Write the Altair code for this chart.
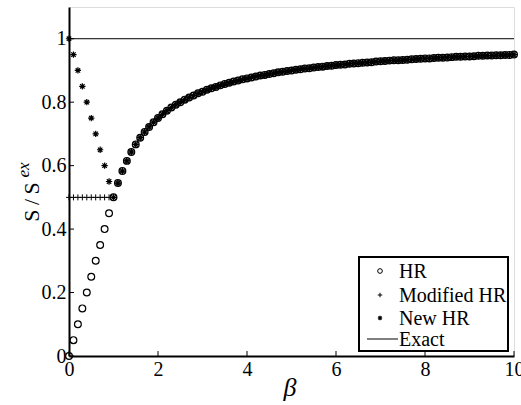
import altair as alt
import pandas as pd

# ---- data ----
beta_low = [0.0, 0.1, 0.2, 0.3, 0.4, 0.5, 0.6, 0.7, 0.8, 0.9, 1.0]
hr_low = [0.0, 0.05, 0.10, 0.15, 0.20, 0.25, 0.30, 0.35, 0.40, 0.45, 0.50]
mod_low = [0.5, 0.5, 0.5, 0.5, 0.5, 0.5, 0.5, 0.5, 0.5, 0.5, 0.5]
new_low = [1.0, 0.95, 0.90, 0.85, 0.80, 0.75, 0.70, 0.65, 0.60, 0.55, 0.50]

beta_high = [1.1, 1.2, 1.3, 1.4, 1.5, 1.6, 1.7, 1.8, 1.9, 2.0,
             2.1, 2.2, 2.3, 2.4, 2.5, 2.6, 2.7, 2.8, 2.9, 3.0,
             3.1, 3.2, 3.3, 3.4, 3.5, 3.6, 3.7, 3.8, 3.9, 4.0,
             4.1, 4.2, 4.3, 4.4, 4.5, 4.6, 4.7, 4.8, 4.9, 5.0,
             5.1, 5.2, 5.3, 5.4, 5.5, 5.6, 5.7, 5.8, 5.9, 6.0,
             6.1, 6.2, 6.3, 6.4, 6.5, 6.6, 6.7, 6.8, 6.9, 7.0,
             7.1, 7.2, 7.3, 7.4, 7.5, 7.6, 7.7, 7.8, 7.9, 8.0,
             8.1, 8.2, 8.3, 8.4, 8.5, 8.6, 8.7, 8.8, 8.9, 9.0,
             9.1, 9.2, 9.3, 9.4, 9.5, 9.6, 9.7, 9.8, 9.9, 10.0]
common_high = [0.545, 0.583, 0.615, 0.643, 0.667, 0.688, 0.706, 0.722, 0.737, 0.750,
               0.762, 0.773, 0.783, 0.792, 0.800, 0.808, 0.815, 0.821, 0.828, 0.833,
               0.839, 0.844, 0.848, 0.853, 0.857, 0.861, 0.865, 0.868, 0.872, 0.875,
               0.878, 0.881, 0.884, 0.886, 0.889, 0.891, 0.894, 0.896, 0.898, 0.900,
               0.902, 0.904, 0.906, 0.907, 0.909, 0.911, 0.912, 0.914, 0.915, 0.917,
               0.918, 0.919, 0.921, 0.922, 0.923, 0.924, 0.925, 0.926, 0.928, 0.929,
               0.930, 0.931, 0.932, 0.932, 0.933, 0.934, 0.935, 0.936, 0.937, 0.938,
               0.938, 0.939, 0.940, 0.940, 0.941, 0.942, 0.943, 0.943, 0.944, 0.944,
               0.945, 0.946, 0.946, 0.947, 0.947, 0.948, 0.948, 0.949, 0.949, 0.950]

exact_x = [0, 10]
exact_y = [1, 1]

x_ticks = [0, 2, 4, 6, 8, 10]
y_ticks = [0, 0.2, 0.4, 0.6, 0.8, 1.0]
legend_labels = ["HR", "Modified HR", "New HR", "Exact"]

FONT = "Times New Roman, Liberation Serif, serif"
W, H = 445, 349

df_hr = pd.DataFrame({"beta": beta_low + beta_high, "v": hr_low + common_high})
df_mod = pd.DataFrame({"beta": beta_low + beta_high, "v": mod_low + common_high})
df_new = pd.DataFrame({"beta": beta_low + beta_high, "v": new_low + common_high})
df_exact = pd.DataFrame({"beta": exact_x, "v": exact_y})

xscale = alt.Scale(domain=[0, 10], nice=False, zero=False)
yscale = alt.Scale(domain=[0, 1.1], nice=False, zero=False)

xaxis = alt.Axis(values=x_ticks, format="d", ticks=False, title=None, grid=False,
                 domainColor="black", domainWidth=2, labelFont=FONT, labelFontSize=20,
                 labelColor="black", labelPadding=3, labelFlush=False, labelOverlap=False)
yaxis = alt.Axis(values=y_ticks, labelExpr="datum.value == 0 ? '0' : datum.value == 1 ? '1' : format(datum.value, '.1f')",
                 ticks=False, title=None, grid=False,
                 domainColor="black", domainWidth=2, labelFont=FONT, labelFontSize=20,
                 labelColor="black", labelPadding=3, labelFlush=False, labelOverlap=False)

X = alt.X("beta:Q", scale=xscale, axis=xaxis)
Y = alt.Y("v:Q", scale=yscale, axis=yaxis)

PLUS = "M-1,0L1,0M0,-1L0,1"
STAR = "M-1,0L1,0M0,-1L0,1M-0.7,-0.7L0.7,0.7M-0.7,0.7L0.7,-0.7"

exact = alt.Chart(df_exact).mark_line(color="black", strokeWidth=1).encode(x=X, y=Y)
hr = alt.Chart(df_hr).mark_point(shape="circle", filled=False, color="black",
                                  strokeWidth=1.2, size=46, opacity=1).encode(x=X, y=Y)
mod = alt.Chart(df_mod).mark_point(shape=PLUS, filled=False, color="black",
                                    strokeWidth=1, size=36, opacity=1).encode(x=X, y=Y)
new = alt.Chart(df_new).mark_point(shape=STAR, filled=False, color="black",
                                    strokeWidth=1.2, size=40, opacity=1).encode(x=X, y=Y)

xt = alt.Chart(pd.DataFrame({"t": x_ticks})).mark_rule(color="black", strokeWidth=1).encode(
    x=alt.X("t:Q", scale=xscale, axis=xaxis), y=alt.value(H), y2=alt.value(H - 5))
yt = alt.Chart(pd.DataFrame({"t": y_ticks})).mark_rule(color="black", strokeWidth=1).encode(
    y=alt.Y("t:Q", scale=yscale, axis=yaxis), x=alt.value(0), x2=alt.value(5))

one = pd.DataFrame({"k": [0]})

ytitle1 = alt.Chart(one).mark_text(text="S\u2009/\u2009S", font=FONT, fontSize=22, angle=270,
                                   align="center", baseline="middle", color="black").encode(
    x=alt.value(-37), y=alt.value(195))
ytitle2 = alt.Chart(one).mark_text(text="ex", font=FONT, fontSize=17, fontStyle="italic", angle=270,
                                   align="center", baseline="middle", color="black").encode(
    x=alt.value(-45), y=alt.value(163))
xtitle = alt.Chart(one).mark_text(text="β", font=FONT, fontSize=26, fontStyle="italic",
                                  align="center", baseline="middle", color="black").encode(
    x=alt.value(221), y=alt.value(381))

# legend
box = alt.Chart(one).mark_rect(fill="white", stroke="black", strokeWidth=2).encode(
    x=alt.value(290), x2=alt.value(439), y=alt.value(250), y2=alt.value(344))
ly = [264, 288, 311, 332]
leg_layers = [box]
leg_layers.append(alt.Chart(one).mark_point(shape="circle", filled=False, color="black",
                                            strokeWidth=1, size=22, opacity=1).encode(
    x=alt.value(311), y=alt.value(ly[0])))
leg_layers.append(alt.Chart(one).mark_point(shape=PLUS, filled=False, color="black",
                                            strokeWidth=1, size=20, opacity=1).encode(
    x=alt.value(311), y=alt.value(ly[1])))
leg_layers.append(alt.Chart(one).mark_point(shape=STAR, filled=False, color="black",
                                            strokeWidth=1.1, size=20, opacity=1).encode(
    x=alt.value(311), y=alt.value(ly[2])))
leg_layers.append(alt.Chart(one).mark_rule(color="black", strokeWidth=1).encode(
    x=alt.value(298), x2=alt.value(329), y=alt.value(ly[3])))
for lab, yy in zip(legend_labels, ly):
    leg_layers.append(alt.Chart(one).mark_text(text=lab, font=FONT, fontSize=20, align="left",
                                               baseline="middle", color="black").encode(
        x=alt.value(330), y=alt.value(yy + 1)))

chart = alt.layer(exact, hr, mod, new, xt, yt, ytitle1, ytitle2, xtitle, *leg_layers).properties(
    width=W, height=H,
    autosize=alt.AutoSizeParams(type="none"),
    padding={"left": 69, "top": 7, "right": 7, "bottom": 49},
).configure_view(stroke=None).configure(background="white")

chart.save("out.html", embed_options={"renderer": "svg", "actions": False})
